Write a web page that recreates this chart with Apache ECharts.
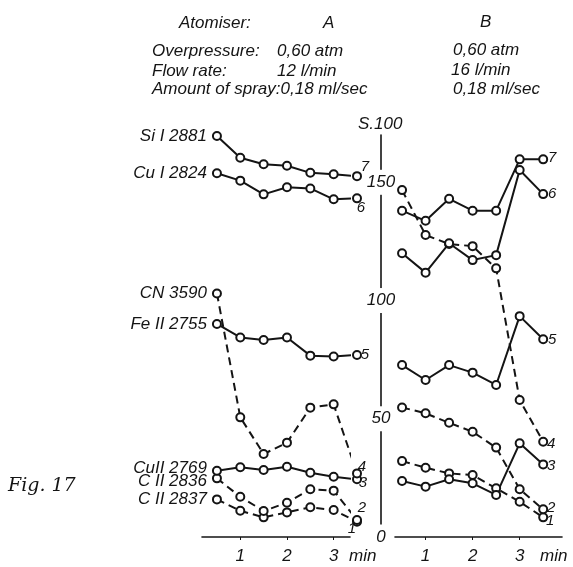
<!DOCTYPE html>
<html>
<head>
<meta charset="utf-8">
<title>Fig. 17</title>
<script src="https://cdn.jsdelivr.net/npm/echarts@6.0.0/dist/echarts.min.js"></script>
<style>
	html, body { margin: 0; padding: 0; background: #fff; }
	#chart { width: 573px; height: 567px; }
</style>
</head>
<body>
<div id="chart"></div>
<script>
// time axis, min
var minutes = [0.5, 1, 1.5, 2, 2.5, 3, 3.5];

// spectral lines, numbered 1..7 as in the figure
var lineNames = ['C II 2837', 'C II 2836', 'CuII 2769', 'CN 3590', 'Fe II 2755', 'Cu I 2824', 'Si I 2881'];
var lineNumbers = ['1', '2', '3', '4', '5', '6', '7'];
var lineDashed = [true, true, false, true, false, false, false];

// atomiser A, S.100
var a1 = [15.9, 11.1, 8.3, 10.4, 12.6, 11.4, 6.5];
var a2 = [24.8, 17.0, 11.0, 14.5, 20.2, 19.6, 7.2];
var a3 = [28.0, 29.5, 28.3, 29.7, 27.2, 25.5, 24.4];
var a4 = [103.0, 50.6, 35.1, 39.9, 54.7, 56.1, 26.9];
var a5 = [90.1, 84.4, 83.3, 84.4, 76.7, 76.3, 77.0];
var a6 = [153.8, 150.7, 144.9, 147.9, 147.4, 142.8, 143.2];
var a7 = [169.6, 160.4, 157.6, 157.0, 154.0, 153.4, 152.6];

// atomiser B, S.100
var b1 = [32.1, 29.3, 26.9, 26.2, 20.6, 14.9, 8.3];
var b2 = [54.8, 52.3, 48.3, 44.5, 37.8, 20.2, 11.7];
var b3 = [23.7, 21.3, 24.4, 22.7, 17.8, 39.6, 30.7];
var b4 = [146.7, 127.7, 123.9, 123.0, 113.6, 57.9, 40.3];
var b5 = [72.7, 66.4, 72.7, 69.5, 64.3, 93.4, 83.6];
var b6 = [120.0, 111.8, 124.2, 117.1, 119.2, 155.2, 145.0];
var b7 = [138.0, 133.7, 143.0, 138.0, 138.0, 159.7, 159.7];

var xTicks = [1, 2, 3];
var yTicks = [0, 50, 100, 150];

var ink = '#141414';
var sansFont = '"Liberation Sans", Arial, sans-serif';

// where the little numbers sit next to the last point
var endOffsetsA = [[-5, 7], [5, -12], [6, 4], [5, -7], [8, 0], [4, 9], [8, -9]];
var endOffsetsB = [[7, 3], [8, -2], [8, 1], [8, 2], [9, 1], [9, 0], [9, -2]];
var nameOffsetsA = [[0, 0], [0, 3], [0, -3], [0, 0], [0, 0], [0, 0], [0, 0]];

// tiny stand-in for jQuery's extend, the page has no jQuery
var $ = {
	extend: function (a, b) {
		for (var key in b) a[key] = b[key];
		return a;
	}
};

function textStyle(size) {
	return {
		fontSize: size,
		fontStyle: 'italic',
		fontFamily: sansFont,
		color: ink
	};
}

function makeSeries(panel, k, values) {
	var data = [];
	for (var i = 0; i < values.length; i++) {
		data.push({ value: [minutes[i], values[i]] });
	}

	if (panel === 0) {
		data[0].label = $.extend(textStyle(17), {
			show: true,
			position: 'left',
			distance: 5,
			offset: nameOffsetsA[k],
			formatter: lineNames[k]
		});
	}
	data[data.length - 1].label = $.extend(textStyle(15), {
		show: true,
		position: 'inside',
		offset: panel === 0 ? endOffsetsA[k] : endOffsetsB[k],
		formatter: lineNumbers[k]
	});

	return {
		type: 'line',
		name: (panel === 0 ? 'A ' : 'B ') + lineNames[k],
		xAxisIndex: panel,
		yAxisIndex: panel,
		data: data,
		clip: false,
		symbol: 'emptyCircle',
		symbolSize: 8,
		showAllSymbol: true,
		lineStyle: {
			color: ink,
			width: 2,
			type: lineDashed[k] ? [8, 5] : 'solid'
		},
		itemStyle: {
			color: ink,
			borderColor: ink,
			borderWidth: 1.4
		},
		emphasis: { disabled: true }
	};
}

function timeAxis(gridIndex, min, max, nameGap) {
	return {
		gridIndex: gridIndex,
		type: 'value',
		min: min,
		max: max,
		axisLine: { show: true, onZero: false, lineStyle: { color: ink, width: 1.6 } },
		axisTick: { show: true, customValues: xTicks, length: 3, lineStyle: { color: ink } },
		axisLabel: $.extend(textStyle(17), { customValues: xTicks, margin: 11 }),
		splitLine: { show: false },
		name: 'min',
		nameLocation: 'end',
		nameGap: nameGap,
		nameTextStyle: $.extend(textStyle(17), { verticalAlign: 'top', padding: [11, 0, 0, 0] })
	};
}

function header(text, x, y) {
	return {
		type: 'text',
		x: x,
		y: y,
		style: {
			text: text,
			font: 'italic 17px ' + sansFont,
			fill: ink,
			align: 'left',
			verticalAlign: 'middle'
		}
	};
}

var seriesList = [];
var seriesA = [a1, a2, a3, a4, a5, a6, a7];
var seriesB = [b1, b2, b3, b4, b5, b6, b7];
for (var k = 0; k < 7; k++) seriesList.push(makeSeries(0, k, seriesA[k]));
for (var k = 0; k < 7; k++) seriesList.push(makeSeries(1, k, seriesB[k]));

var chart = echarts.init(document.getElementById('chart'));

chart.setOption({
	animation: false,
	backgroundColor: '#fff',
	grid: [
		{ left: 202, right: 223, top: 135, bottom: 30, outerBoundsMode: 'none' },
		{ left: 395, right: 11, top: 135, bottom: 30, outerBoundsMode: 'none' }
	],
	xAxis: [
		timeAxis(0, 0.18, 3.35, -1),
		timeAxis(1, 0.35, 3.9, -22)
	],
	yAxis: [
		{ gridIndex: 0, type: 'value', min: 0, max: 170, show: false },
		{
			gridIndex: 1,
			type: 'value',
			min: 0,
			max: 170,
			position: 'left',
			offset: 14,
			axisLine: { show: true, lineStyle: { color: ink, width: 1.6 } },
			axisTick: { show: false },
			splitLine: { show: false },
			axisLabel: $.extend(textStyle(17), {
				customValues: yTicks,
				align: 'center',
				margin: 0,
				backgroundColor: '#fff',
				padding: [4, 1]
			})
		}
	],
	graphic: [
		header('Atomiser:', 179, 23),
		header('A', 323, 23),
		header('B', 480, 22),
		header('Overpressure:', 152, 51),
		header('0,60 atm', 277, 51),
		header('0,60 atm', 453, 50),
		header('Flow rate:', 152, 71),
		header('12 l/min', 277, 71),
		header('16 l/min', 451, 70),
		header('Amount of spray:0,18 ml/sec', 152, 89),
		header('0,18 ml/sec', 453, 89),
		header('S.100', 358, 124),
		{
			type: 'text',
			x: 8,
			y: 486,
			style: {
				text: 'Fig. 17',
				font: 'italic 19px "DejaVu Serif", serif',
				fill: ink,
				align: 'left',
				verticalAlign: 'middle'
			}
		}
	],
	series: seriesList
});
</script>
</body>
</html>
